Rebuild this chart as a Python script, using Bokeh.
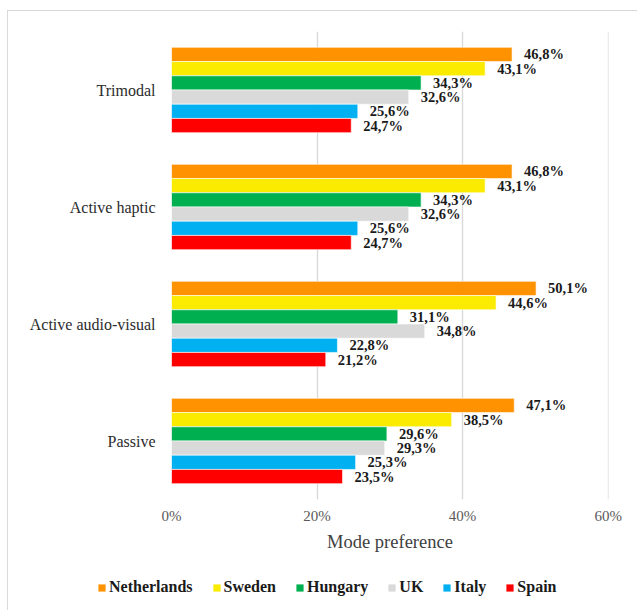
from bokeh.plotting import figure
from bokeh.layouts import column
from bokeh.models import (FactorRange, ColumnDataSource, FixedTicker, Legend, LegendItem)
from bokeh.transform import dodge
from bokeh.embed import file_html
from bokeh.resources import INLINE

# ---- data ----
categories = ["Trimodal", "Active haptic", "Active audio-visual", "Passive"]
series_names = ["Netherlands", "Sweden", "Hungary", "UK", "Italy", "Spain"]
series_colors = ["#FF9200", "#FAEB00", "#00B050", "#D9D9D9", "#00B0F0", "#FF0000"]
netherlands = [46.8, 46.8, 50.1, 47.1]
sweden = [43.1, 43.1, 44.6, 38.5]
hungary = [34.3, 34.3, 31.1, 29.6]
uk = [32.6, 32.6, 34.8, 29.3]
italy = [25.6, 25.6, 22.8, 25.3]
spain = [24.7, 24.7, 21.2, 23.5]
series_values = [netherlands, sweden, hungary, uk, italy, spain]
x_ticks = [0, 20, 40, 60]
x_tick_labels = ["0%", "20%", "40%", "60%"]
x_title = "Mode preference"

FONT = "Liberation Serif"
W = 629

p = figure(
    width=W, height=560,
    y_range=FactorRange(factors=list(reversed(categories))),
    x_range=(0, 60.05),
    output_backend="svg", toolbar_location=None,
    min_border_left=163, min_border_right=29,
    min_border_top=20, min_border_bottom=72,
)
p.frame_align = False
p.outline_line_color = None
p.background_fill_color = "white"
p.border_fill_color = "white"

bar_h = 0.1215
n = len(series_names)
renderers = []
for i, (name, color, vals) in enumerate(zip(series_names, series_colors, series_values)):
    off = ((n - 1) / 2 - i) * bar_h
    labels = [f"{v:.1f}".replace(".", ",") + "%" for v in vals]
    src = ColumnDataSource(dict(cat=categories, val=vals, lab=labels))
    r = p.hbar(y=dodge("cat", off, range=p.y_range), left=0, right="val", height=bar_h,
               source=src, fill_color=color, line_color="white", line_width=0.6)
    renderers.append(r)
    p.text(x="val", y=dodge("cat", off, range=p.y_range), text="lab", source=src,
           x_offset=12, text_baseline="middle", text_align="left",
           text_font=FONT, text_font_size="14.5px", text_font_style="bold",
           text_color="#1a1a1a")

# x axis
xa = p.xaxis[0]
xa.ticker = FixedTicker(ticks=x_ticks)
xa.major_label_overrides = {t: l for t, l in zip(x_ticks, x_tick_labels)}
xa.axis_line_color = None
xa.major_tick_line_color = None
xa.minor_tick_line_color = None
xa.major_tick_out = 0
xa.major_label_standoff = 8
xa.major_label_text_font = FONT
xa.major_label_text_font_size = "15px"
xa.major_label_text_color = "#595959"
xa.axis_label = x_title
xa.axis_label_text_font = FONT
xa.axis_label_text_font_size = "18.5px"
xa.axis_label_text_font_style = "normal"
xa.axis_label_text_color = "#404040"
xa.axis_label_standoff = 5

# y axis
ya = p.yaxis[0]
ya.axis_line_color = None
ya.major_tick_line_color = None
ya.minor_tick_line_color = None
ya.major_tick_out = 0
ya.major_label_standoff = 16
ya.major_label_text_font = FONT
ya.major_label_text_font_size = "16px"
ya.major_label_text_color = "#2b2b2b"

p.xgrid.ticker = FixedTicker(ticks=x_ticks)
p.xgrid.grid_line_color = "#d9d9d9"
p.xgrid.grid_line_width = 1.4
p.ygrid.grid_line_color = None

# legend strip below the chart (its own small canvas, frame = whole canvas)
lf = figure(width=W, height=39, x_range=(0, 1), y_range=(0, 1),
            x_axis_type=None, y_axis_type=None, min_border=0,
            output_backend="svg", toolbar_location=None)
lf.frame_align = False
lf.outline_line_color = None
lf.grid.visible = False
lf.border_fill_color = "white"
leg_renderers = [lf.hbar(y=[0], left=[0], right=[0], height=0, fill_color=c, line_color=None)
                 for c in series_colors]
legend = Legend(
    items=[LegendItem(label=nm, renderers=[r]) for nm, r in zip(series_names, leg_renderers)],
    orientation="horizontal",
    location=(89, 14),
    glyph_width=9, glyph_height=9, label_standoff=3, spacing=19,
    padding=0, margin=0,
    label_text_font=FONT, label_text_font_size="16px", label_text_font_style="bold",
    label_text_color="#1a1a1a",
    border_line_color=None, background_fill_alpha=0,
    label_height=9,
)
lf.add_layout(legend, "center")

layout = column(p, lf, spacing=0)
layout.margin = (10, 0, 0, 7)
layout.styles = {"border-top": "1px solid #d9d9d9", "border-left": "1px solid #d9d9d9"}

open("out.html", "w").write(file_html(layout, INLINE))
